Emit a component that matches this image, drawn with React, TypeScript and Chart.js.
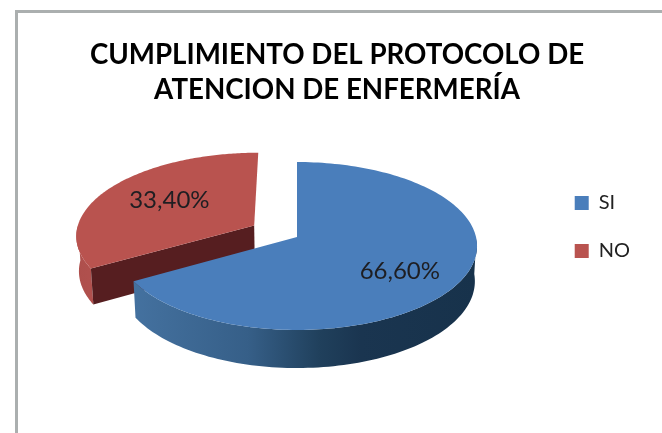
import React, { useEffect, useRef } from "react";
import { Chart, registerables } from "chart.js";

Chart.register(...registerables);

const titleLines = ["CUMPLIMIENTO DEL PROTOCOLO DE", "ATENCION DE ENFERMERÍA"];
const categories = ["SI", "NO"];
const values = [66.6, 33.4];
const valueLabels = ["66,60%", "33,40%"];

const topColors = ["#4A7EBB", "#B9534F"];
const FONT = "Lato, Carlito, sans-serif";

// Perspective view of the flat pie
const VIEW = { cx: 297, cy: 237, a: 179, b: 83, k: 0.107, depth: 35, shrink: 0.988 };
const labelPlace = [
  { f: 0.64, dy: 7 },
  { f: 0.58, dy: -3 },
];

function project(u: number, v: number, lower = false) {
  const den = 1 - VIEW.k * v;
  const s = lower ? VIEW.shrink : 1;
  return {
    x: VIEW.cx + (s * VIEW.a * u) / den,
    y: VIEW.cy + (s * VIEW.b * v) / den + (lower ? VIEW.depth / den : 0),
  };
}

function sliceGeom(arc: any) {
  const R = arc.outerRadius;
  const mid = (arc.startAngle + arc.endAngle) / 2;
  const d = (arc.options.offset || 0) / R;
  const ox = d * Math.cos(mid);
  const oy = d * Math.sin(mid);
  return { ox, oy, mid, start: arc.startAngle, end: arc.endAngle };
}

function rimPoints(g: any, lower: boolean, frontOnly = false) {
  const pts = [];
  const n = 160;
  for (let i = 0; i <= n; i++) {
    const t = g.start + ((g.end - g.start) * i) / n;
    if (frontOnly && Math.sin(t) < 0) continue;
    pts.push(project(g.ox + Math.cos(t), g.oy + Math.sin(t), lower));
  }
  return pts;
}

function fillPoly(ctx: CanvasRenderingContext2D, pts: any[], fill: any) {
  ctx.beginPath();
  pts.forEach((p, i) => (i ? ctx.lineTo(p.x, p.y) : ctx.moveTo(p.x, p.y)));
  ctx.closePath();
  ctx.fillStyle = fill;
  ctx.fill();
}

const pie3d = {
  id: "pie3d",
  beforeDatasetDraw() {
    return false;
  },
  afterDatasetsDraw(chart: any) {
    const ctx: CanvasRenderingContext2D = chart.ctx;
    const arcs = chart.getDatasetMeta(0).data;
    const blue = sliceGeom(arcs[0]);
    const red = sliceGeom(arcs[1]);
    ctx.save();

    // back slice (NO)
    const redTop = rimPoints(red, false);
    const redWallTop = rimPoints(red, false, true);
    const redWallLow = rimPoints(red, true, true);
    const rg = ctx.createLinearGradient(77, 0, 100, 0);
    rg.addColorStop(0, "#AE4F4C");
    rg.addColorStop(1, "#B2514E");
    fillPoly(ctx, [...redWallTop, ...redWallLow.slice().reverse()], rg);
    const apexR = project(red.ox, red.oy);
    const apexRL = project(red.ox, red.oy, true);
    fillPoly(ctx, [apexR, redWallTop[0], redWallLow[0], apexRL], "#561E20");
    fillPoly(ctx, [apexR, ...redTop], topColors[1]);

    // front slice (SI)
    const blueTop = rimPoints(blue, false);
    const blueWallTop = rimPoints(blue, false, true);
    const blueWallLow = rimPoints(blue, true, true);
    const bg = ctx.createLinearGradient(135, 0, 477, 0);
    bg.addColorStop(0, "#44719F");
    bg.addColorStop(0.33, "#365F88");
    bg.addColorStop(0.54, "#20405C");
    bg.addColorStop(0.66, "#1A3550");
    bg.addColorStop(1, "#17324B");
    fillPoly(ctx, [...blueWallTop, ...blueWallLow.slice().reverse()], bg);
    fillPoly(ctx, [project(blue.ox, blue.oy), ...blueTop], topColors[0]);

    // value labels
    ctx.font = `24px ${FONT}`;
    ctx.fillStyle = "#1E1E22";
    ctx.textAlign = "center";
    ctx.textBaseline = "middle";
    [blue, red].forEach((g, i) => {
      const p = labelPlace[i];
      const pos = project(g.ox + p.f * Math.cos(g.mid), g.oy + p.f * Math.sin(g.mid));
      ctx.fillText(valueLabels[i], pos.x, pos.y + p.dy);
    });
    ctx.restore();
  },
};

export default function App() {
  const ref = useRef<HTMLCanvasElement>(null);
  useEffect(() => {
    document.body.style.margin = "0";
    document.body.style.background = "#fff";
    const chart = new Chart(ref.current!, {
      type: "pie",
      data: {
        labels: categories,
        datasets: [
          {
            data: values,
            backgroundColor: topColors,
            borderWidth: 0,
            offset: [0, 28],
            radius: 100,
          } as any,
        ],
      },
      options: {
        responsive: false,
        animation: false,
        layout: { padding: { left: 34, right: 22, top: 37, bottom: 16 } },
        plugins: {
          title: {
            display: true,
            text: titleLines,
            color: "#000",
            font: { family: FONT, size: 27.7, weight: "bold", lineHeight: 1.27 },
            padding: { top: 0, bottom: 10 },
          },
          legend: {
            position: "right",
            labels: {
              boxWidth: 14,
              boxHeight: 14,
              padding: 28,
              color: "#222",
              font: { family: FONT, size: 20 },
            },
          },
          tooltip: { enabled: false },
        },
      },
      plugins: [pie3d],
    } as any);
    return () => chart.destroy();
  }, []);
  return (
    <div style={{ position: "relative", width: 662, height: 433, overflow: "hidden", background: "#fff" }}>
      <canvas ref={ref} width={662} height={433} style={{ display: "block", filter: "blur(0.4px)" }} />
      <div
        style={{
          position: "absolute",
          left: 15,
          top: 10,
          right: -5,
          bottom: -5,
          borderLeft: "3px solid #ABAFAF",
          borderTop: "3px solid #ABAFAF",
        }}
      />
    </div>
  );
}
